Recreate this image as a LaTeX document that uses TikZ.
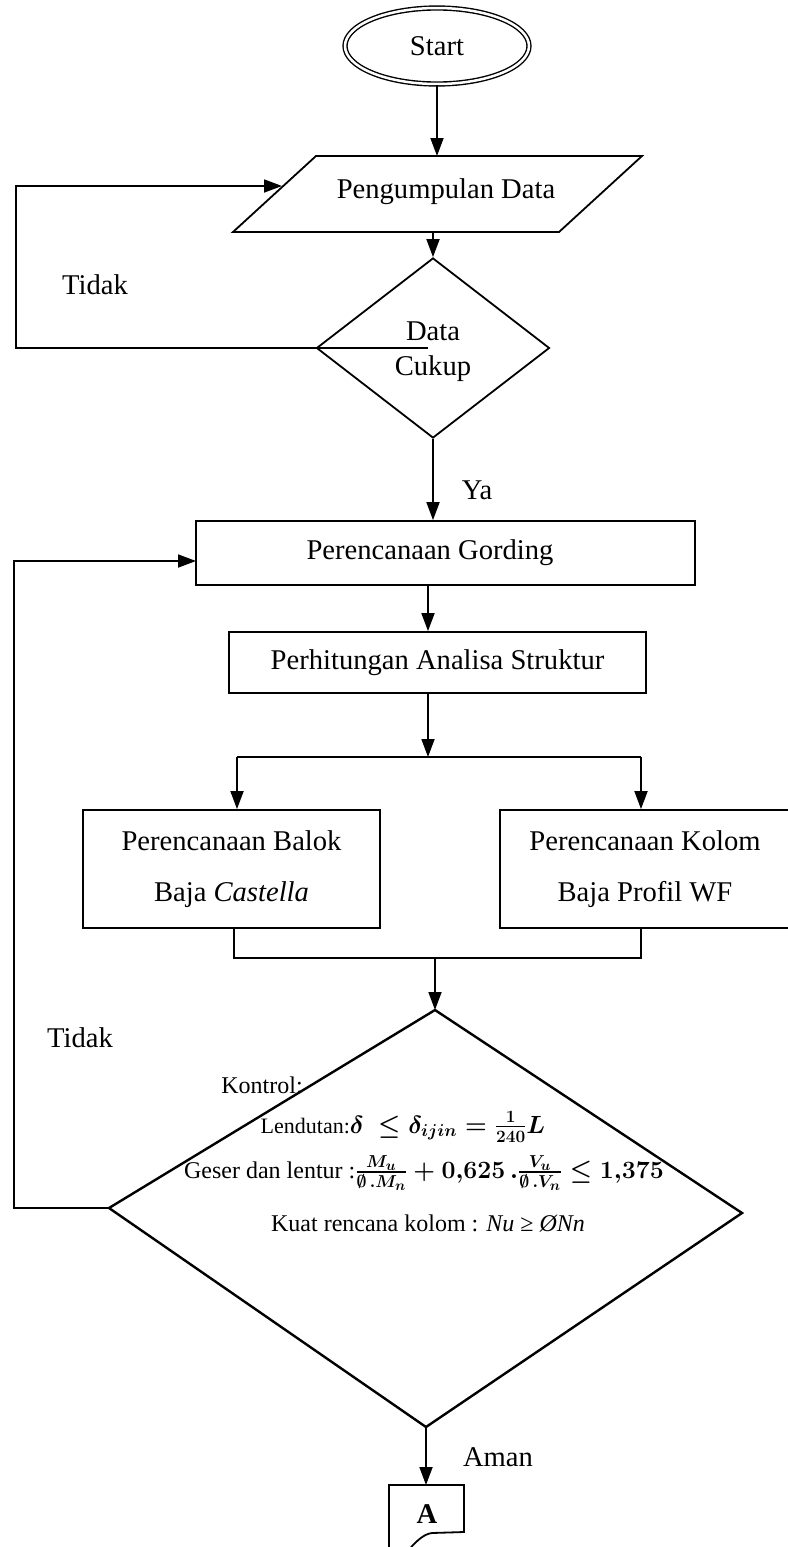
\documentclass[tikz,border=0pt]{standalone}
\usepackage{amsmath,amssymb}
\usepackage{fontspec}
\setmainfont{Liberation Serif}
\usetikzlibrary{arrows.meta,shapes.geometric}
\newcommand{\fs}[1]{\fontsize{#1}{#1}\selectfont}
\begin{document}
\begin{tikzpicture}[x=1pt,y=-1pt,line width=1.8pt,
  arr/.style={-{Triangle[length=18pt,width=13pt]}},
  lbl/.style={font=\fontsize{28.6}{35}\selectfont, inner sep=0pt},
  frm/.style={inner sep=0pt},
  box/.style={draw, rectangle, inner sep=0pt},
]
\useasboundingbox (0,0) rectangle (787,1547);
% Start
\node[draw, ellipse, double, double distance=2.5pt, line width=1.4pt,
      minimum width=184pt, minimum height=76pt, lbl] (start) at (437,46) {Start};
% Pengumpulan Data (parallelogram)
\coordinate (p1) at (233,232);
\coordinate (p2) at (316,156);
\coordinate (p3) at (642,156);
\coordinate (p4) at (559,232);
\draw (p1) -- (p2) -- (p3) -- (p4) -- cycle;
\node[lbl] (pd) at (446,192) {Pengumpulan Data};
\coordinate (pTop) at (437,156);
\coordinate (pBot) at (433,232);
\coordinate (pIn) at (282,186);
\draw[arr] (start.south) -- (pTop);
% Data Cukup
\node[draw, diamond, minimum width=233pt, minimum height=180pt, inner sep=0pt] (d1) at (433,348) {};
\node[lbl, align=center] (d1t) at (433,352) {Data\\Cukup};
\draw[arr] (pBot) -- (d1.north);
\coordinate (d1stub) at (428,348);
\coordinate (lA) at (16,348);
\coordinate (lB) at (16,186);
\draw (d1stub) -- (d1.west);
\draw[arr] (d1.west) -- (lA) -- (lB) -- (pIn);
\node[lbl] (tidak1) at (95,285) {Tidak};
\node[lbl] (ya) at (477,490) {Ya};
% Perencanaan Gording
\node[box, minimum width=499pt, minimum height=64pt] (gord) at (445.5,553) {};
\node[lbl] (gordt) at (430,553) {Perencanaan Gording};
\draw[arr] (d1.south) -- (d1.south |- gord.north);
% Perhitungan
\node[box, minimum width=417pt, minimum height=61pt, lbl] (hit) at (437.5,662.5) {Perhitungan Analisa Struktur};
\draw[arr] ([xshift=-17.5pt]gord.south) -- ([xshift=-9.5pt]hit.north);
\coordinate (split) at (428,757);
\coordinate (sL) at (237,757);
\coordinate (sR) at (641,757);
\draw[arr] ([xshift=-9.5pt]hit.south) -- (split);
\draw (sL) -- (sR);
% Balok / Kolom
\node[box, minimum width=297pt, minimum height=118pt, align=center,
      font=\fontsize{28.6}{51}\selectfont] (balok) at (231.5,869) {Perencanaan Balok\\Baja \textit{Castella}};
\node[box, minimum width=290pt, minimum height=118pt, align=center,
      font=\fontsize{28.6}{51}\selectfont] (kolom) at (645,869) {Perencanaan Kolom\\Baja Profil WF};
\draw[arr] (sL) -- (sL |- balok.north);
\draw[arr] (sR) -- (sR |- kolom.north);
\coordinate (mL) at (234,958);
\coordinate (mR) at (641,958);
\coordinate (mid) at (435,958);
\draw (mL |- balok.south) -- (mL) -- (mR) -- (mR |- kolom.south);
% Kontrol diamond
\coordinate (kt) at (435,1010);
\coordinate (kr) at (742,1213);
\coordinate (kb) at (426,1427);
\coordinate (kl) at (109,1208);
\draw[arr] (mid) -- (kt);
\draw[line width=2.4pt, line join=miter] (kt) -- (kr) -- (kb) -- (kl) -- cycle;
\node[font=\fontsize{24}{28}\selectfont, inner sep=0pt] (kon) at (262,1085) {Kontrol:};
\node[frm] (f1) at (403,1127) {\fs{22}Lendutan:\fs{25}{\boldmath$\delta\ \le \delta_{ijin} = \frac{1}{240}L$}};
\node[frm] (f2) at (424,1173) {\fs{24}Geser dan lentur :\fs{27}{\boldmath$\frac{M_u}{\emptyset\,.M_n}+0{,}625\,.\frac{V_u}{\emptyset\,.V_n}\le 1{,}375$}};
\node[frm] (f3) at (428,1223) {\fs{24}Kuat rencana kolom : \textit{Nu} ≥ \textit{ØNn}};
\node[lbl] (tidak2) at (80,1038) {Tidak};
% loop back to Gording
\coordinate (lC) at (14,1208);
\coordinate (lD) at (14,561);
\coordinate (gIn) at (196,561);
\draw[arr] (kl) -- (lC) -- (lD) -- (gIn);
% Aman -> A
\coordinate (aTop) at (426,1485);
\draw[arr] (kb) -- (aTop);
\node[lbl] (aman) at (498,1457) {Aman};
\draw (389,1547) -- (389,1485) -- (464,1485) -- (464,1532) -- (432,1533)
      .. controls (424,1534) and (418,1540) .. (411,1547);
\node[lbl, font=\fontsize{28.6}{35}\selectfont\bfseries] (A) at (427,1514) {A};
\end{tikzpicture}
\end{document}
